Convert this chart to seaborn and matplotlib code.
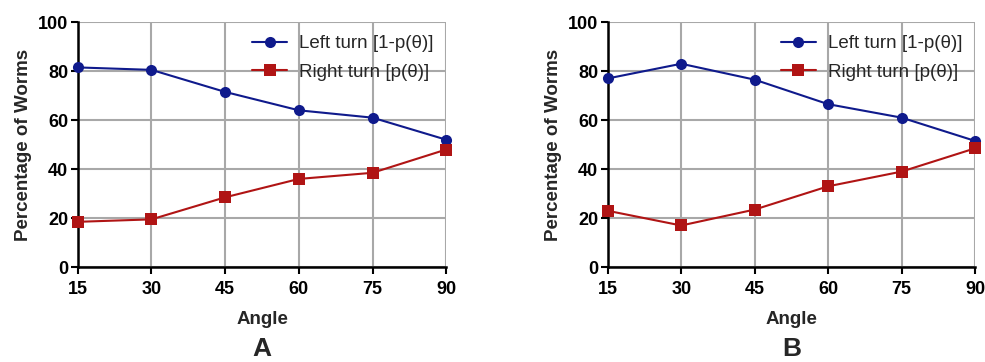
import matplotlib
matplotlib.use("Agg")
import matplotlib.pyplot as plt
import pandas as pd
import seaborn as sns

# --- Data --------------------------------------------------------------------
ANGLES = [15, 30, 45, 60, 75, 90]
LEFT_A = [81.5, 80.5, 71.5, 64.0, 61.0, 52.0]
RIGHT_A = [18.5, 19.5, 28.5, 36.0, 38.5, 48.0]
LEFT_B = [77.0, 83.0, 76.5, 66.5, 61.0, 51.5]
RIGHT_B = [23.0, 17.0, 23.5, 33.0, 39.0, 48.5]
SERIES = ["Left turn [1-p(\u03b8)]", "Right turn [p(\u03b8)]"]
PANELS = ["A", "B"]

COLORS = {SERIES[0]: "#0f1a8c", SERIES[1]: "#b01414"}
MARKERS = {SERIES[0]: "o", SERIES[1]: "s"}

sns.set_style("white")
plt.rcParams["font.family"] = ["Liberation Sans", "DejaVu Sans"]


def make_frame(left, right):
    return pd.concat([
        pd.DataFrame({"Angle": ANGLES, "Pct": left, "Turn": SERIES[0]}),
        pd.DataFrame({"Angle": ANGLES, "Pct": right, "Turn": SERIES[1]}),
    ])


fig = plt.figure(figsize=(9.85, 3.62), dpi=100)
positions = [[0.079, 0.262, 0.374, 0.677], [0.617, 0.262, 0.373, 0.677]]
frames = [make_frame(LEFT_A, RIGHT_A), make_frame(LEFT_B, RIGHT_B)]

for pos, df, letter in zip(positions, frames, PANELS):
    ax = fig.add_axes(pos)
    sns.lineplot(data=df, x="Angle", y="Pct", hue="Turn", style="Turn",
                 palette=COLORS, markers=MARKERS, dashes=False,
                 markersize=8, linewidth=1.5, markeredgewidth=0,
                 clip_on=False, zorder=5, ax=ax)
    ax.set_xlim(15, 90)
    ax.set_ylim(0, 100)
    ax.set_xticks(ANGLES)
    ax.set_yticks([0, 20, 40, 60, 80, 100])
    ax.grid(True, color="#a8a8a8", linewidth=1.5)
    ax.set_axisbelow(True)
    for side in ["top", "right"]:
        ax.spines[side].set_visible(False)
    for side in ["left", "bottom"]:
        ax.spines[side].set_color("black")
        ax.spines[side].set_linewidth(1.8)
    ax.tick_params(direction="out", length=5, width=1.5, colors="black",
                   labelsize=13, left=True, bottom=True)
    ax.tick_params(axis="x", pad=5)
    ax.tick_params(axis="y", pad=2)
    for lab in ax.get_xticklabels() + ax.get_yticklabels():
        lab.set_fontweight("bold")
    ax.set_xlabel("Angle", fontsize=13.5, fontweight="bold", labelpad=9)
    ax.set_ylabel("Percentage of Worms", fontsize=13.5, fontweight="bold",
                  labelpad=4)
    ax.legend(loc="upper right", bbox_to_anchor=(1.0, 1.0),
              frameon=False, fontsize=13.5, handlelength=1.9,
              handletextpad=0.6, labelspacing=0.6, borderaxespad=0.3)
    ax.text(0.5, -0.335, letter, transform=ax.transAxes, ha="center",
            va="center", fontsize=19, fontweight="bold")

fig.savefig("out.png", dpi=100)
